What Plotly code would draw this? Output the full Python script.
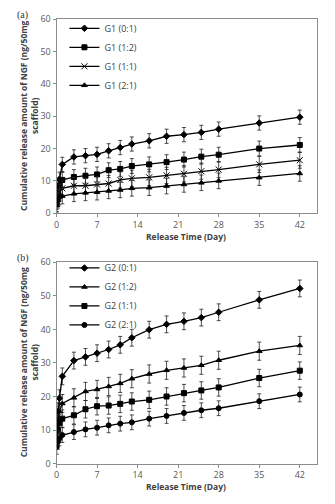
import plotly.graph_objects as go

# Release sampling times (days)
days = [0.04, 0.25, 0.5, 1, 3, 5, 7, 9, 11, 13, 16, 19, 22, 25, 28, 35, 42]

# Panel (a): G1 scaffolds
g1_names = ["G1 (0:1)", "G1 (1:2)", "G1 (1:1)", "G1 (2:1)"]
g1_values = [
    [4.5, 7.5, 10.5, 15.1, 17.4, 17.8, 18.2, 19.3, 20.3, 21.4, 22.4, 23.8, 24.3, 25.0, 26.0, 27.9, 29.7],
    [3.5, 6.0, 8.5, 10.3, 11.2, 11.6, 12.0, 13.3, 13.7, 14.6, 15.1, 15.8, 16.6, 17.5, 18.1, 20.0, 21.1],
    [3.0, 5.0, 6.5, 7.7, 8.5, 8.5, 8.9, 9.2, 10.3, 10.8, 11.1, 11.7, 12.2, 13.0, 13.5, 15.1, 16.4],
    [2.5, 4.0, 5.0, 5.3, 6.0, 6.3, 6.5, 6.9, 7.2, 7.7, 7.9, 8.4, 8.9, 9.4, 10.0, 11.0, 12.3],
]
g1_errors = [2.2, 2.3, 2.5, 2.4]
g1_symbols = ["diamond", "square", "x-thin-open", "triangle-up"]

# Panel (b): G2 scaffolds
g2_names = ["G2 (0:1)", "G2 (1:2)", "G2 (1:1)", "G2 (2:1)"]
g2_values = [
    [10.0, 15.5, 19.5, 26.0, 30.7, 31.8, 32.9, 34.0, 35.4, 37.5, 39.9, 41.5, 42.4, 43.5, 45.1, 48.8, 52.2],
    [9.5, 12.5, 15.5, 17.9, 19.6, 21.5, 22.1, 23.0, 23.9, 25.3, 26.7, 27.8, 28.5, 29.3, 30.8, 33.5, 35.2],
    [7.0, 10.0, 12.0, 13.4, 14.4, 16.2, 17.1, 17.3, 17.8, 18.5, 19.0, 20.0, 21.0, 21.8, 22.7, 25.5, 27.7],
    [5.0, 6.5, 7.5, 8.5, 9.4, 10.2, 10.7, 11.4, 11.9, 12.3, 13.4, 14.2, 15.1, 15.9, 16.5, 18.6, 20.6],
]
g2_errors = [2.5, 2.7, 2.6, 2.2]
g2_symbols = ["diamond", "triangle-up", "square", "circle"]

x_ticks = [0, 7, 14, 21, 28, 35, 42]
y_ticks = [0, 10, 20, 30, 40, 50, 60]

W, H = 335, 504
fig = go.Figure()


def add_group(names, values, errors, symbols, xa, ya, legend):
    for name, vals, err, sym in zip(names, values, errors, symbols):
        fig.add_trace(go.Scatter(
            x=days, y=vals, name=name, mode="lines+markers",
            xaxis=xa, yaxis=ya, legend=legend,
            line=dict(color="black", width=1.3),
            marker=dict(symbol=sym, size=5 if sym != "x-thin-open" else 6,
                        color="black", line=dict(color="black", width=1)),
            error_y=dict(type="constant", value=err, color="#222222",
                         thickness=0.8, width=2),
        ))


add_group(g1_names, g1_values, g1_errors, g1_symbols, "x", "y", "legend")
add_group(g2_names, g2_values, g2_errors, g2_symbols, "x2", "y2", "legend2")

axis_common = dict(
    showline=True, linecolor="#8c8c8c", linewidth=1, mirror=True,
    showgrid=False, zeroline=False, ticks="outside", ticklen=3,
    tickcolor="#8c8c8c", tickfont=dict(family="Open Sans", size=9, color="#595959"),
)
legend_font = dict(family="Open Sans", size=9, color="#404040")
dom_x = [54 / W, 317 / W]
fig.update_layout(
    width=W, height=H, margin=dict(l=0, r=0, t=0, b=0),
    paper_bgcolor="white", plot_bgcolor="white", showlegend=True,
    xaxis=dict(domain=dom_x, anchor="y", range=[0, 45], tickvals=x_ticks, **axis_common),
    yaxis=dict(domain=[1 - 211.7 / H, 1 - 12.5 / H], anchor="x", range=[0, 60],
               tickvals=y_ticks, **axis_common),
    xaxis2=dict(domain=dom_x, anchor="y2", range=[0, 45], tickvals=x_ticks, **axis_common),
    yaxis2=dict(domain=[1 - 468.7 / H, 1 - 262 / H], anchor="x2", range=[0, 60],
                tickvals=y_ticks, **axis_common),
    legend=dict(x=62 / W, y=1 - 7 / H, xanchor="left", yanchor="top",
                bgcolor="rgba(0,0,0,0)", tracegroupgap=0, itemwidth=30,
                font=legend_font),
    legend2=dict(x=62 / W, y=1 - 253 / H, xanchor="left", yanchor="top",
                 bgcolor="rgba(0,0,0,0)", tracegroupgap=0, itemwidth=30,
                 font=legend_font),
)

ytitle = "<b>Cumulative release amount of NGF (ng/50mg<br>scaffold)</b>"
xtitle = "<b>Release Time (Day)</b>"
title_font = dict(family="Open Sans", size=8.5, color="#404040")


def label(text, x, y, font, angle=0):
    return dict(text=text, x=x / W, y=1 - y / H, xref="paper", yref="paper",
                xanchor="center", yanchor="middle", textangle=angle,
                showarrow=False, font=font)


serif = dict(family="Liberation Serif", size=10, color="#333333")
annotations = [
    label("(a)", 20, 8, serif),
    label("(b)", 20, 258, serif),
    label(ytitle, 26, 112, title_font, -90),
    label(ytitle, 26, 365, title_font, -90),
    label(xtitle, 185, 236, title_font),
    label(xtitle, 185, 492, title_font),
]
fig.update_layout(annotations=annotations)

fig.write_html("out.html")
